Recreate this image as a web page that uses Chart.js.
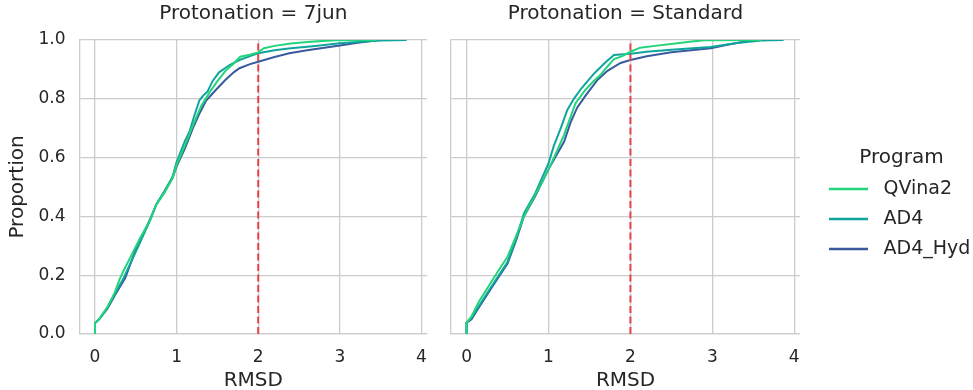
<!DOCTYPE html>
<html><head><meta charset="utf-8">
<script src="https://cdn.jsdelivr.net/npm/chart.js@4/dist/chart.umd.min.js"></script>
<style>
html,body{margin:0;padding:0;background:#fff;}
#wrap{position:relative;width:973px;height:390px;overflow:hidden;background:#fff;}
#c1{position:absolute;left:0;top:0;width:440px;height:390px;}
#c2{position:absolute;left:440px;top:0;width:533px;height:390px;}
</style></head><body>
<div id="wrap"><canvas id="c1" width="440" height="390"></canvas><canvas id="c2" width="533" height="390"></canvas></div>
<script>
// ---- data ----
const programs = ['QVina2', 'AD4', 'AD4_Hyd'];
const panelTitles = ['Protonation = 7jun', 'Protonation = Standard'];
const xTickValues = [0, 1, 2, 3, 4];
const yTickValues = [0, 0.2, 0.4, 0.6, 0.8, 1.0];
const rmsdThreshold = 2;

// Protonation = 7jun
const qvina2_7jun_rmsd = [0, 0, 0.05, 0.15, 0.24, 0.30, 0.35, 0.45, 0.55, 0.68, 0.75, 0.85, 0.95, 1.00, 1.10, 1.20, 1.30, 1.40, 1.50, 1.60, 1.70, 1.78, 1.90, 2.00, 2.07, 2.20, 2.40, 2.60, 2.80, 2.95, 3.45];
const qvina2_7jun_prop = [0, 0.037, 0.05, 0.09, 0.14, 0.185, 0.215, 0.27, 0.325, 0.39, 0.44, 0.48, 0.53, 0.575, 0.64, 0.71, 0.775, 0.82, 0.86, 0.895, 0.92, 0.943, 0.95, 0.958, 0.972, 0.98, 0.988, 0.993, 0.997, 0.999, 1.0];
const ad4_7jun_rmsd = [0, 0, 0.05, 0.15, 0.24, 0.35, 0.45, 0.55, 0.68, 0.75, 0.85, 0.95, 1.00, 1.10, 1.16, 1.22, 1.28, 1.33, 1.38, 1.44, 1.52, 1.65, 1.77, 1.90, 2.00, 2.20, 2.40, 2.70, 3.00, 3.30, 3.50, 3.82];
const ad4_7jun_prop = [0, 0.037, 0.05, 0.09, 0.135, 0.19, 0.25, 0.31, 0.39, 0.44, 0.485, 0.535, 0.585, 0.655, 0.69, 0.745, 0.795, 0.812, 0.825, 0.86, 0.89, 0.915, 0.932, 0.945, 0.955, 0.965, 0.972, 0.98, 0.989, 0.995, 0.998, 1.0];
const ad4hyd_7jun_rmsd = [0, 0, 0.05, 0.15, 0.24, 0.37, 0.49, 0.60, 0.69, 0.75, 0.85, 0.95, 1.00, 1.10, 1.20, 1.28, 1.36, 1.48, 1.60, 1.70, 1.77, 1.90, 2.00, 2.20, 2.38, 2.60, 3.00, 3.20, 3.48];
const ad4hyd_7jun_prop = [0, 0.037, 0.05, 0.085, 0.13, 0.19, 0.28, 0.345, 0.40, 0.44, 0.485, 0.53, 0.57, 0.63, 0.70, 0.75, 0.793, 0.83, 0.865, 0.89, 0.904, 0.918, 0.926, 0.942, 0.955, 0.965, 0.981, 0.99, 1.0];

// Protonation = Standard
const qvina2_std_rmsd = [0, 0, 0.06, 0.15, 0.29, 0.40, 0.50, 0.60, 0.70, 0.84, 0.92, 1.00, 1.10, 1.19, 1.33, 1.45, 1.55, 1.63, 1.72, 1.80, 1.90, 2.00, 2.12, 2.30, 2.57, 2.75, 2.90, 3.60];
const qvina2_std_prop = [0, 0.038, 0.06, 0.11, 0.172, 0.22, 0.263, 0.33, 0.40, 0.475, 0.515, 0.56, 0.62, 0.677, 0.785, 0.83, 0.86, 0.88, 0.91, 0.935, 0.945, 0.96, 0.974, 0.98, 0.989, 0.995, 0.999, 1.0];
const ad4_std_rmsd = [0, 0, 0.06, 0.15, 0.30, 0.50, 0.60, 0.70, 0.84, 0.92, 1.00, 1.065, 1.15, 1.23, 1.31, 1.40, 1.56, 1.70, 1.80, 2.00, 2.20, 2.50, 2.98, 3.30, 3.60, 3.87];
const ad4_std_prop = [0, 0.038, 0.055, 0.095, 0.16, 0.245, 0.32, 0.41, 0.48, 0.53, 0.58, 0.64, 0.70, 0.762, 0.80, 0.835, 0.887, 0.925, 0.949, 0.953, 0.96, 0.967, 0.976, 0.99, 0.998, 1.0];
const ad4hyd_std_rmsd = [0, 0, 0.06, 0.15, 0.30, 0.50, 0.60, 0.70, 0.84, 1.00, 1.10, 1.19, 1.27, 1.35, 1.45, 1.60, 1.72, 1.88, 2.00, 2.20, 2.50, 2.98, 3.20, 3.50];
const ad4hyd_std_prop = [0, 0.038, 0.05, 0.09, 0.155, 0.24, 0.315, 0.40, 0.47, 0.56, 0.61, 0.654, 0.72, 0.77, 0.81, 0.865, 0.895, 0.922, 0.932, 0.945, 0.958, 0.972, 0.985, 1.0];

// ---- styling ----
const programColors = ['#22d47a', '#10a59c', '#3a5a9f'];
const TEXT = '#262626';
const GRID = '#cccccc';
Chart.defaults.font.family = "'DejaVu Sans', sans-serif";
Chart.defaults.color = TEXT;

function zip(xs, ys) { return xs.map((x, i) => ({ x: x, y: ys[i] })); }

function buildDatasets(series) {
  const ds = [{
    label: 'threshold',
    data: zip([rmsdThreshold, rmsdThreshold], [0, 1]),
    borderColor: '#e8424a', borderWidth: 2, borderDash: [7, 3.5],
    pointRadius: 0, order: 0
  }];
  series.forEach((s, i) => {
    ds.push({
      label: programs[i], data: zip(s[0], s[1]),
      borderColor: programColors[i], backgroundColor: programColors[i],
      borderWidth: 2, pointRadius: 0, tension: 0, fill: false, order: i + 1
    });
  });
  return ds;
}

function legendMark(color) {
  const c = document.createElement('canvas');
  c.width = 45; c.height = 4;
  const g = c.getContext('2d');
  g.fillStyle = color;
  g.fillRect(0, 0.75, 39, 2.5);
  return c;
}

function axes(showY) {
  return {
    x: {
      type: 'linear', min: -0.19, max: 4.07,
      afterBuildTicks: s => { s.ticks = xTickValues.map(v => ({ value: v })); },
      afterFit: s => { s.height = 56; },
      ticks: { font: { size: 17 }, color: TEXT, padding: 13, maxRotation: 0, autoSkip: false, callback: v => String(v) },
      grid: { color: GRID, lineWidth: 1.3, drawTicks: false },
      border: { display: true, color: GRID, width: 1.3 },
      title: { display: true, text: 'RMSD', color: TEXT, font: { size: 20, lineHeight: 0.9 }, padding: { top: 0, bottom: 0 } }
    },
    y: {
      type: 'linear', min: 0, max: 1,
      afterBuildTicks: s => { s.ticks = yTickValues.map(v => ({ value: v })); },
      afterFit: s => { s.width = showY ? 79.5 : 11; },
      ticks: { display: showY, font: { size: 17 }, color: TEXT, padding: 14, callback: v => Number(v).toFixed(1) },
      grid: { color: GRID, lineWidth: 1.3, drawTicks: false },
      border: { display: true, color: GRID, width: 1.3 },
      title: { display: showY, text: 'Proportion', color: TEXT, font: { size: 20 }, padding: { top: 6, bottom: 0 } }
    }
  };
}

function titleOpts(text) {
  return { display: true, text: text, color: TEXT, font: { size: 20, weight: 'normal' }, padding: { top: 2, bottom: 14 }, fullSize: false };
}

new Chart(document.getElementById('c1'), {
  type: 'line',
  data: { datasets: buildDatasets([[qvina2_7jun_rmsd, qvina2_7jun_prop], [ad4_7jun_rmsd, ad4_7jun_prop], [ad4hyd_7jun_rmsd, ad4hyd_7jun_prop]]) },
  options: {
    responsive: false, animation: false, events: [],
    layout: { padding: { left: 0, right: 12, top: 0, bottom: 0 } },
    scales: axes(true),
    plugins: { legend: { display: false }, tooltip: { enabled: false }, title: titleOpts(panelTitles[0]) }
  }
});

const legendShift = {
  id: 'legendShift',
  afterLayout(chart) {
    const lg = chart.legend;
    if (!lg) return;
    lg.left = 378; lg.width = 167; lg.right = lg.left + lg.width;
  }
};

new Chart(document.getElementById('c2'), {
  type: 'line',
  data: { datasets: buildDatasets([[qvina2_std_rmsd, qvina2_std_prop], [ad4_std_rmsd, ad4_std_prop], [ad4hyd_std_rmsd, ad4hyd_std_prop]]) },
  options: {
    responsive: false, animation: false, events: [],
    layout: { padding: { left: 0, right: 23, top: 0, bottom: 0 } },
    scales: axes(false),
    plugins: {
      tooltip: { enabled: false },
      title: titleOpts(panelTitles[1]),
      legend: {
        display: true, position: 'right', align: 'start', maxWidth: 150,
        title: { display: true, text: 'Program', color: TEXT, font: { size: 20, lineHeight: 1.0 }, padding: { top: 148, bottom: 0.5 } },
        labels: {
          font: { size: 19 }, padding: 11, usePointStyle: true, pointStyleWidth: 45,
          generateLabels: () => programs.map((p, i) => ({
            text: p, pointStyle: legendMark(programColors[i]), fillStyle: programColors[i],
            strokeStyle: programColors[i], lineWidth: 0, hidden: false, datasetIndex: i + 1, fontColor: TEXT
          }))
        }
      }
    }
  },
  plugins: [legendShift]
});
</script>
</body></html>
